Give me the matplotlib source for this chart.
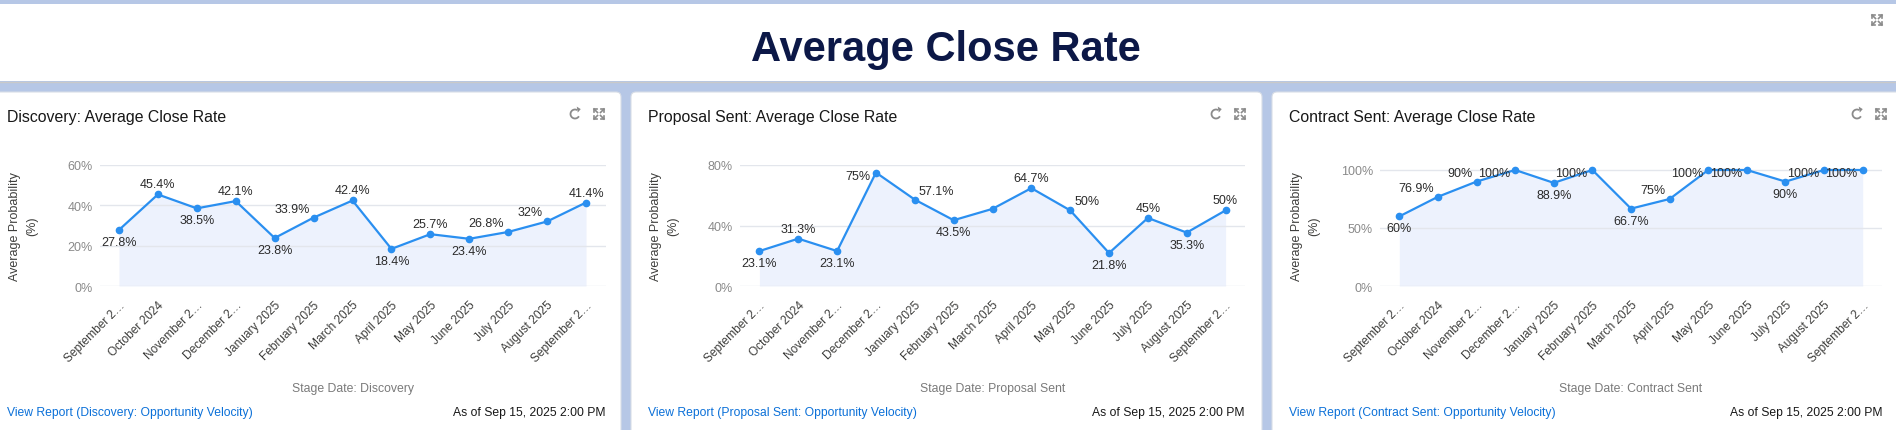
import numpy as np
import matplotlib.pyplot as plt
from matplotlib.patches import Rectangle, FancyBboxPatch, Arc, Polygon
from matplotlib.lines import Line2D

plt.rcParams['font.family'] = ['Liberation Sans', 'DejaVu Sans']

# ---- data ----
months = ['September 2\u2026', 'October 2024', 'November 2\u2026', 'December 2\u2026',
          'January 2025', 'February 2025', 'March 2025', 'April 2025', 'May 2025',
          'June 2025', 'July 2025', 'August 2025', 'September 2\u2026']

discovery = [27.8, 45.4, 38.5, 42.1, 23.8, 33.9, 42.4, 18.4, 25.7, 23.4, 26.8, 32.0, 41.4]
proposal = [23.1, 31.3, 23.1, 75.0, 57.1, 43.5, 51.0, 64.7, 50.0, 21.8, 45.0, 35.3, 50.0]
contract = [60.0, 76.9, 90.0, 100.0, 88.9, 100.0, 66.7, 75.0, 100.0, 100.0, 90.0, 100.0, 100.0]

# label placement per point (a=above, b=below, al=above-left, ar=above-right, l=left, None=hidden)
disc_pos = ['b', 'a', 'b', 'a', 'b', 'al', 'a', 'b', 'a', 'b', 'al', 'al', 'a']
prop_pos = ['b', 'a', 'b', 'l', 'ar', 'b', None, 'a', 'ar', 'b', 'a', 'b', 'a']
cont_pos = ['b', 'al', 'al', 'l', 'b', 'l', 'b', 'al', 'l', 'l', 'b', 'l', 'l']

panels = [
    {'title': 'Discovery: Average Close Rate', 'vals': discovery, 'pos': disc_pos,
     'yticks': [0, 20, 40, 60], 'ytop': 60, 'xlabel': 'Stage Date: Discovery',
     'link': 'View Report (Discovery: Opportunity Velocity)'},
    {'title': 'Proposal Sent: Average Close Rate', 'vals': proposal, 'pos': prop_pos,
     'yticks': [0, 40, 80], 'ytop': 80, 'xlabel': 'Stage Date: Proposal Sent',
     'link': 'View Report (Proposal Sent: Opportunity Velocity)'},
    {'title': 'Contract Sent: Average Close Rate', 'vals': contract, 'pos': cont_pos,
     'yticks': [0, 50, 100], 'ytop': 104.3, 'xlabel': 'Stage Date: Contract Sent',
     'link': 'View Report (Contract Sent: Opportunity Velocity)'},
]
asof = 'As of Sep 15, 2025 2:00 PM'

# ---- layout (pixels) ----
W, H = 1896, 431
BG = '#b6c7e6'
LINE = '#2a8ff0'
FILL = '#edf2fd'

card_left = [-10, 631, 1272]
card_w = 631
plot_lr = [(109.5, 615.5), (109, 614), (108, 610)]
plot_top, plot_bot = 166, 287


def fx(px):
    return px / W


def fy(py):
    return 1 - py / H


def inch(px, py):
    return px / 100., (H - py) / 100.


def draw_expand(fig, cx, cy, s=5, c='#8a8a8a'):
    # four little outward arrows
    for sx in (-1, 1):
        for sy in (-1, 1):
            x0, y0 = cx + sx * 1.5, cy + sy * 1.5
            x1, y1 = cx + sx * s, cy + sy * s
            fig.add_artist(Line2D([fx(x0), fx(x1)], [fy(y0), fy(y1)], color=c, lw=1.2))
            fig.add_artist(Line2D([fx(x1 - sx * 3), fx(x1), fx(x1)],
                                  [fy(y1), fy(y1), fy(y1 - sy * 3)], color=c, lw=1.2))


def draw_refresh(fig, cx, cy, r=4.5, c='#8a8a8a'):
    x, y = inch(cx, cy)
    fig.add_artist(Arc((x, y), 2 * r / 100., 2 * r / 100., theta1=60, theta2=330,
                       transform=fig.dpi_scale_trans, color=c, lw=1.3))
    ang = np.deg2rad(60)
    ex, ey = x + r / 100. * np.cos(ang), y + r / 100. * np.sin(ang)
    tri = [(ex + 0.035, ey + 0.01), (ex - 0.005, ey + 0.035), (ex + 0.005, ey - 0.025)]
    fig.add_artist(Polygon(tri, closed=True, transform=fig.dpi_scale_trans, color=c, lw=0))


fig = plt.figure(figsize=(W / 100., H / 100.), dpi=100)
fig.patch.set_facecolor(BG)

# header
fig.add_artist(Rectangle((0, fy(82)), 1, fy(5) - fy(82), transform=fig.transFigure,
                         facecolor='white', edgecolor='none', zorder=-2))
fig.add_artist(Line2D([0, 1], [fy(82.5), fy(82.5)], color='#c9c9c9', lw=1, zorder=-1))
fig.text(fx(946), fy(50), 'Average Close Rate', ha='center', va='center',
         fontsize=30, fontweight='bold', color='#0c1847')
draw_expand(fig, 1877, 21)

offsets = {'a': (0, 10, 'center'), 'b': (0, -12, 'center'), 'al': (-4, 9, 'right'),
           'ar': (4, 9, 'left'), 'l': (-5, -3, 'right')}

for i, p in enumerate(panels):
    L = card_left[i]
    # card
    fig.add_artist(FancyBboxPatch((L / 100., -0.2), card_w / 100., (H - 93) / 100. + 0.2,
                                  boxstyle='round,pad=0,rounding_size=0.05',
                                  transform=fig.dpi_scale_trans, facecolor='white',
                                  edgecolor='#d8dde6', lw=0.8, zorder=-1))
    fig.text(fx(L + 17), fy(118), p['title'], ha='left', va='center',
             fontsize=11.4, color='#181818')
    draw_refresh(fig, L + 585, 115)
    draw_expand(fig, L + 609, 115)

    x0, x1 = plot_lr[i]
    ax = fig.add_axes([fx(L + x0), fy(plot_bot), (x1 - x0) / W, (plot_bot - plot_top) / H])
    ax.set_facecolor('none')
    xs = np.arange(len(months))
    vals = np.array(p['vals'])
    ax.fill_between(xs, 0, vals, color=FILL, lw=0, zorder=1)
    ax.plot(xs, vals, color=LINE, lw=1.6, marker='o', markersize=4.5, zorder=3,
            clip_on=False)
    for xv, v, code in zip(xs, vals, p['pos']):
        if code is None:
            continue
        dx, dy, ha = offsets[code]
        ax.annotate(f'{v:g}%', (xv, v), xytext=(dx, dy), textcoords='offset pixels',
                    ha=ha, va='center', fontsize=9, color='#2b2b2b', zorder=4)
    ax.set_xlim(-0.5, 12.5)
    ax.set_ylim(0, p['ytop'])
    ax.set_yticks(p['yticks'])
    ax.set_yticklabels([f'{t}%' for t in p['yticks']])
    ax.grid(axis='y', color='#e3e6ec', lw=1, zorder=0)
    ax.set_xticks(xs)
    ax.set_xticklabels(months, rotation=45, ha='right', va='top', rotation_mode='anchor',
                       fontsize=8.6, color='#3e3e3c')
    ax.tick_params(axis='both', length=0)
    ax.tick_params(axis='y', labelsize=9, labelcolor='#8a8a8a', pad=5)
    ax.tick_params(axis='x', pad=9)
    for s in ax.spines.values():
        s.set_visible(False)

    fig.text(fx(L + 34), fy((plot_top + plot_bot) / 2), 'Average Probability\n(%)',
             rotation=90, ha='center', va='center', multialignment='center',
             fontsize=9, color='#3e3e3c', linespacing=1.6)
    fig.text(fx(L + (x0 + x1) / 2), fy(389), p['xlabel'], ha='center', va='center',
             fontsize=8.8, color='#7a7a7a')
    fig.text(fx(L + 17), fy(413), p['link'], ha='left', va='center',
             fontsize=8.7, color='#0b70d8')
    fig.text(fx(L + x1), fy(413), asof, ha='right', va='center',
             fontsize=8.7, color='#181818')

fig.savefig('out.png', dpi=100, facecolor=fig.get_facecolor())
